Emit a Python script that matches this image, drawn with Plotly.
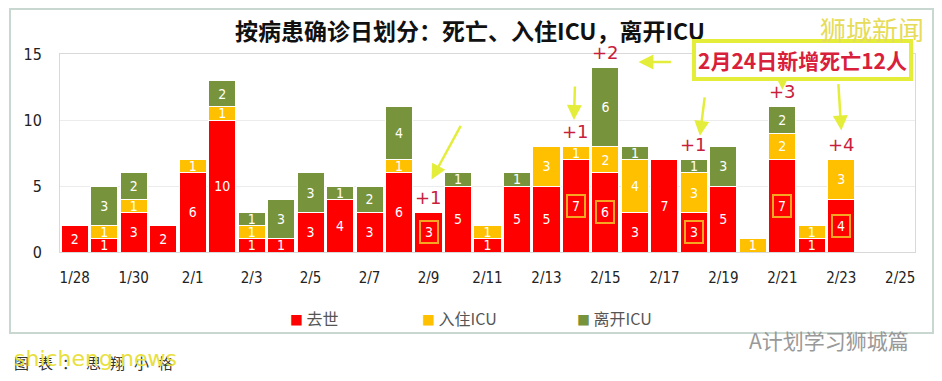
import plotly.graph_objects as go

dates = ["1/28","1/29","1/30","1/31","2/1","2/2","2/3","2/4","2/5","2/6","2/7","2/8","2/9","2/10",
         "2/11","2/12","2/13","2/14","2/15","2/16","2/17","2/18","2/19","2/20","2/21","2/22","2/23","2/24","2/25"]
deaths = [2,1,3,2,6,10,1,1,3,4,3,6,3,5,1,5,5,7,6,3,7,3,5,0,7,1,4,0,0]
icu_in = [0,1,1,0,1,1,1,0,0,0,0,1,0,0,1,0,3,1,2,4,0,3,0,1,2,1,3,0,0]
icu_out = [0,3,2,0,0,2,1,3,3,1,2,4,0,1,0,1,0,0,6,1,0,1,3,0,2,0,0,0,0]
tick_labels = dates[::2]

circled = ["2/9","2/14","2/15","2/18","2/21","2/23"]
increments = {"2/9":"+1","2/14":"+1","2/15":"+2","2/18":"+1","2/21":"+3","2/23":"+4"}

series_names = ["去世", "入住ICU", "离开ICU"]
RED, YEL, GRN = "#ff0000", "#ffc000", "#77933c"
NUM_FONT = "Liberation Sans Narrow, DejaVu Sans Condensed, Arial Narrow, sans-serif"
CJK = "Noto Sans CJK SC, sans-serif"

def txt(vals, skip=()):
    return [("" if (v == 0 or d in skip) else str(v)) for d, v in zip(dates, vals)]

fig = go.Figure()
for name, vals, col, skip in [(series_names[0], deaths, RED, circled),
                              (series_names[1], icu_in, YEL, ()),
                              (series_names[2], icu_out, GRN, ())]:
    fig.add_trace(go.Bar(
        x=dates, y=vals, name=name, marker=dict(color=col, line=dict(color="white", width=1)),
        text=txt(vals, skip), textposition="inside", insidetextanchor="middle", textangle=0,
        textfont=dict(color="white", size=14, family=NUM_FONT), constraintext="none",
        hoverinfo="skip", showlegend=False))

annotations = []
# circled death numbers
for d in circled:
    i = dates.index(d)
    annotations.append(dict(x=d, y=deaths[i] / 2, text=str(deaths[i]), showarrow=False,
                            xanchor="center", yanchor="middle",
                            font=dict(color="white", size=14, family=NUM_FONT),
                            bordercolor="#f5a623", borderwidth=2, borderpad=2, width=12))
# increments above bars
for d, t in increments.items():
    i = dates.index(d)
    top = deaths[i] + icu_in[i] + icu_out[i]
    annotations.append(dict(x=d, y=top, yshift=15, text=t, showarrow=False, xanchor="center", yanchor="middle",
                            font=dict(color="#c8203c", size=18, family="DejaVu Sans")))

ARW = "#e4ee3a"
def arrow(x, y, ax, ay, xshift=0):
    return dict(x=x, y=y, ax=ax, ay=ay, xref="x", yref="y", axref="pixel", ayref="pixel", xshift=xshift,
                text="", showarrow=True, arrowhead=2, arrowsize=1.2, arrowwidth=2.5, arrowcolor=ARW)

annotations += [
    arrow("2/9", 5.5, 30, -55, xshift=3),
    arrow("2/14", 10.0, 1, -35, xshift=-2),
    arrow("2/18", 8.8, 5, -40, xshift=6),
    arrow("2/15", 14.4, 34, 0, xshift=33),
    arrow("2/21", 12.3, 0, -8),
    arrow("2/23", 9.2, -3, -48),
]
# callout + watermarks
annotations += [
    dict(xref="paper", yref="paper", x=0.868, y=(252 - 60) / 198, xanchor="center", yanchor="middle",
         text="<b>2月24日新增死亡12人</b>", showarrow=False,
         font=dict(color="#d8203a", size=21, family=CJK), bordercolor=ARW, borderwidth=4,
         borderpad=2, bgcolor="white"),
    dict(xref="paper", yref="paper", x=(926 - 60) / 855, y=(252 - 29) / 198, xanchor="right", yanchor="middle",
         text="狮城新闻", showarrow=False, font=dict(color="#e6dc5a", size=26, family=CJK)),
    dict(xref="paper", yref="paper", x=(911 - 60) / 855, y=(252 - 340) / 198, xanchor="right", yanchor="middle",
         text="A计划学习狮城篇", showarrow=False, font=dict(color="#999999", size=21, family=CJK)),
    dict(xref="paper", yref="paper", x=(12 - 60) / 855, y=(252 - 362) / 198, xanchor="left", yanchor="middle",
         text="<span style='letter-spacing:9px'>图表：思翔小格</span>",
         showarrow=False, font=dict(color="#333333", size=15, family=CJK)),
    dict(xref="paper", yref="paper", x=(12 - 60) / 855, y=(252 - 358) / 198, xanchor="left", yanchor="middle",
         text="shicheng.news", showarrow=False, font=dict(color="#e8e040", size=22, family="DejaVu Sans")),
]
# legend drawn as text entries
for name, col, px in [(series_names[0], RED, 288), (series_names[1], YEL, 420), (series_names[2], GRN, 575)]:
    annotations.append(dict(xref="paper", yref="paper", x=(px - 60) / 855, y=(252 - 318) / 198,
                            xanchor="left", yanchor="middle", showarrow=False,
                            text=f"<span style='color:{col};font-size:13px'>■</span> {name}",
                            font=dict(color="#555555", size=16, family=CJK)))

# the page places the figure 8px from the top-left corner; margins compensate for that
fig.update_layout(
    barmode="stack", bargap=0.08, width=942, height=381,
    margin=dict(l=52, r=35, t=46, b=137, autoexpand=False),
    paper_bgcolor="white", plot_bgcolor="white", showlegend=False,
    title=dict(text="<b>按病患确诊日划分：死亡、入住ICU，离开ICU</b>", x=(470 - 8) / 942, xanchor="center",
               y=1 - 24 / 381, yanchor="middle", font=dict(size=23, color="#111111", family=CJK)),
    xaxis=dict(type="category", categoryorder="array", categoryarray=dates, automargin=False,
               tickmode="array", tickvals=tick_labels, ticktext=tick_labels,
               tickfont=dict(size=15, color="#222222", family=NUM_FONT), ticks="", ticklabelstandoff=12,
               showline=True, linecolor="#d9d9d9", mirror=True, showgrid=False),
    yaxis=dict(range=[0, 15], tickvals=[0, 5, 10, 15], automargin=False,
               tickfont=dict(size=16, color="#222222", family=NUM_FONT),
               showgrid=True, gridcolor="#ececec", showline=True, linecolor="#d9d9d9", mirror=True,
               zeroline=False, ticklabelstandoff=14),
    annotations=annotations,
    shapes=[dict(type="rect", xref="paper", yref="paper", x0=(10 - 60) / 855, x1=(933 - 60) / 855,
                 y0=(252 - 333) / 198, y1=(252 - 9) / 198,
                 line=dict(color="#c8d8d0", width=2), layer="above")],
)

fig.write_html("out.html")
